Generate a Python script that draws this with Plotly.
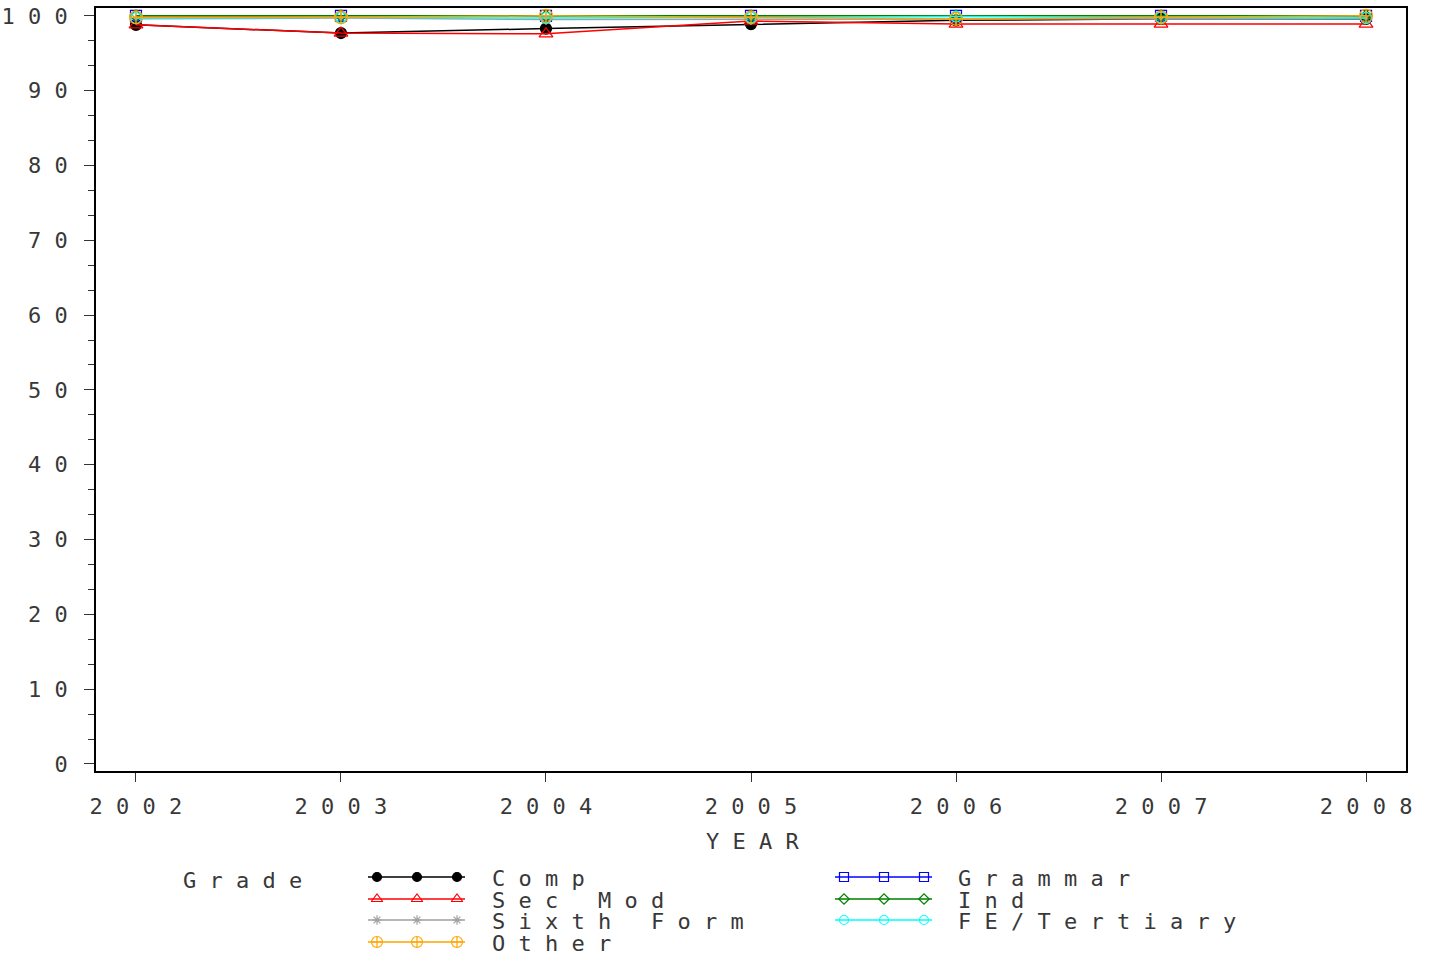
import plotly.graph_objects as go

# ---------------- data ----------------
years = [2002, 2003, 2004, 2005, 2006, 2007, 2008]
comp = [98.8, 97.7, 98.3, 98.9, 99.4, 99.6, 99.6]
sec_mod = [98.8, 97.7, 97.6, 99.3, 98.9, 98.9, 98.9]
sixth_form = [99.6, 99.7, 99.5, 99.5, 99.6, 99.6, 99.7]
grammar = [100.0, 100.0, 100.0, 100.0, 100.0, 100.0, 100.0]
ind = [100.0, 100.0, 100.0, 100.0, 100.0, 100.0, 100.0]
fe_tertiary = [99.7, 99.8, 99.7, 99.8, 99.9, 99.8, 99.7]
other = [99.8, 99.8, 100.0, 99.8, 99.6, 99.8, 100.0]
y_ticks = [0, 10, 20, 30, 40, 50, 60, 70, 80, 90, 100]

W, H = 1430, 955
FONT = "DejaVu Sans Mono"
TXT = "#383838"
FS = 22


def spaced(s):
    return "\u00a0".join(s).replace(" ", "\u00a0")


series = [
    # name, values, color, symbol, size, legend column, row
    ("Comp", comp, "black", "circle", 11, 0, 0),
    ("Sec Mod", sec_mod, "red", "triangle-up-open", 12, 0, 1),
    ("Sixth Form", sixth_form, "#a0a0a0", "asterisk-open", 9, 0, 2),
    ("Grammar", grammar, "blue", "square-open", 11, 1, 0),
    ("Ind", ind, "green", "diamond-open", 9, 1, 1),
    ("FE/Tertiary", fe_tertiary, "cyan", "circle-open", 11, 1, 2),
    ("Other", other, "orange", "circle-cross-open", 13, 0, 3),
]

fig = go.Figure()

for name, vals, col, sym, size, c, r in series:
    fig.add_trace(go.Scatter(
        x=years, y=vals, mode="lines+markers", name=name,
        line=dict(color=col, width=1.5),
        marker=dict(symbol=sym, size=size, color=col, line=dict(color=col, width=1.2)),
        cliponaxis=False, showlegend=False, xaxis="x", yaxis="y",
    ))

# ---------------- custom legend on a full-figure overlay axis ----------------
col_line_x = [368, 835]
col_text_x = [490, 956]
row_y = [877, 899, 920, 942]
for name, vals, col, sym, size, c, r in series:
    x0 = col_line_x[c]
    fig.add_trace(go.Scatter(
        x=[x0, x0 + 97], y=[row_y[r], row_y[r]], mode="lines",
        line=dict(color=col, width=1.5), showlegend=False,
        xaxis="x2", yaxis="y2", hoverinfo="skip", cliponaxis=False,
    ))
    fig.add_trace(go.Scatter(
        x=[x0 + 9, x0 + 49, x0 + 89], y=[row_y[r]] * 3, mode="markers",
        marker=dict(symbol=sym, size=max(size - 2, 8), color=col, line=dict(color=col, width=1.2)),
        showlegend=False, xaxis="x2", yaxis="y2", hoverinfo="skip", cliponaxis=False,
    ))
    fig.add_annotation(
        x=col_text_x[c], y=row_y[r] + 1, xref="x2", yref="y2", text=spaced(name),
        showarrow=False, xanchor="left", yanchor="middle",
        font=dict(family=FONT, size=FS, color=TXT),
    )

fig.add_annotation(
    x=181, y=880, xref="x2", yref="y2", text=spaced("Grade"),
    showarrow=False, xanchor="left", yanchor="middle",
    font=dict(family=FONT, size=FS, color=TXT),
)
fig.add_annotation(
    x=752, y=841, xref="x2", yref="y2", text=spaced("YEAR"),
    showarrow=False, xanchor="center", yanchor="middle",
    font=dict(family=FONT, size=FS, color=TXT),
)

fig.update_layout(
    width=W, height=H,
    margin=dict(l=0, r=0, t=0, b=0),
    paper_bgcolor="white", plot_bgcolor="rgba(0,0,0,0)",
    showlegend=False,
    xaxis=dict(
        domain=[96 / W, 1406 / W], anchor="y",
        range=[2001.805, 2008.195],
        tickmode="array", tickvals=years, ticktext=[spaced(str(y)) for y in years],
        ticks="outside", ticklen=9, tickwidth=1, tickcolor="#333",
        showline=True, linecolor="black", linewidth=1.5, mirror=True,
        showgrid=False, zeroline=False, automargin=False,
        tickfont=dict(family=FONT, size=FS, color=TXT),
        ticklabelstandoff=6,
    ),
    yaxis=dict(
        domain=[(H - 771) / H, (H - 8) / H], anchor="x",
        range=[-0.94, 101.05],
        tickmode="array", tickvals=y_ticks, ticktext=[spaced(str(v)) for v in y_ticks],
        ticks="outside", ticklen=10, tickwidth=1, tickcolor="#333",
        minor=dict(dtick=10 / 3, tick0=0, ticks="outside", ticklen=6, tickwidth=1, tickcolor="#333"),
        showline=True, linecolor="black", linewidth=1.5, mirror=True,
        showgrid=False, zeroline=False, automargin=False,
        tickfont=dict(family=FONT, size=FS, color=TXT),
        ticklabelstandoff=12,
    ),
    xaxis2=dict(domain=[0, 1], anchor="y2", range=[0, W], visible=False, fixedrange=True),
    yaxis2=dict(domain=[0, 1], anchor="x2", range=[H, 0], visible=False, fixedrange=True),
)

fig.write_html("out.html", config={"displayModeBar": False},
               post_script="document.body.style.margin='0';")
